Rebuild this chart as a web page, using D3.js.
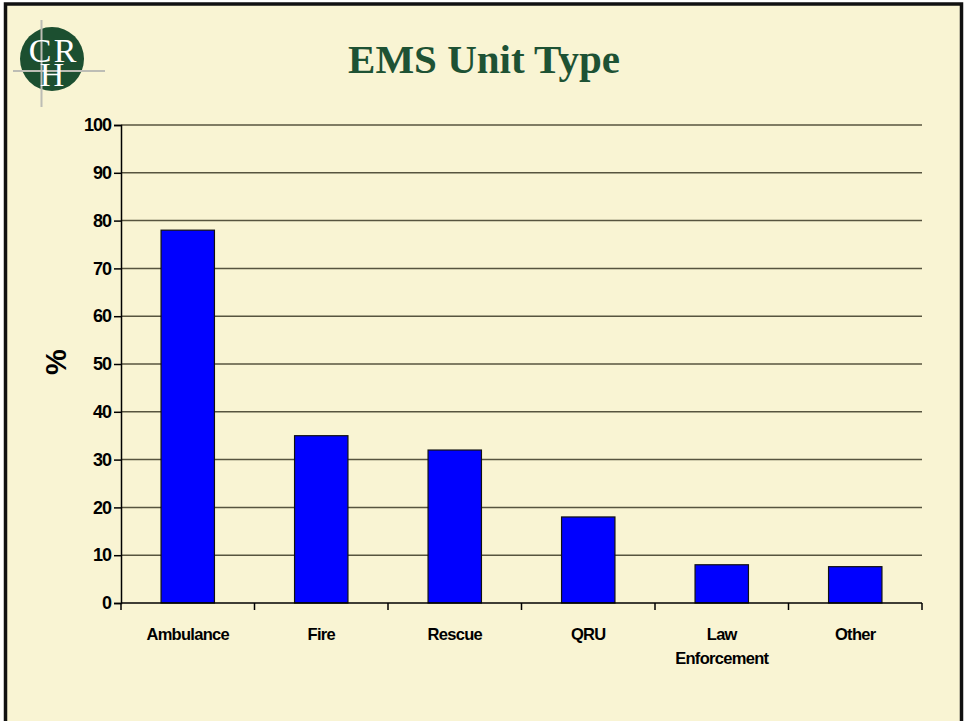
<!DOCTYPE html>
<html><head><meta charset="utf-8">
<script src="https://cdn.jsdelivr.net/npm/d3@7"></script>
<style>html,body{margin:0;padding:0;background:#fff;}svg{display:block;}</style>
</head><body>
<script>
const categories = ["Ambulance", "Fire", "Rescue", "QRU", "Law Enforcement", "Other"];
const values = [78, 35, 32, 18, 8, 7.6];
const yTicks = [0, 10, 20, 30, 40, 50, 60, 70, 80, 90, 100];
const titleText = "EMS Unit Type";
const yLabel = "%";

(function() {
const W = 964, H = 721;
const svg = d3.select("body").append("svg").attr("width", W).attr("height", H);

// frame
svg.append("rect").attr("x", 0).attr("y", 0).attr("width", W).attr("height", H).attr("fill", "#ffffff");
svg.append("rect").attr("x", 5.5).attr("y", 4).attr("width", 956).attr("height", 730)
  .attr("fill", "#F9F4D3").attr("stroke", "#111").attr("stroke-width", 3.5);

// logo
const logo = svg.append("g");
logo.append("circle").attr("cx", 52).attr("cy", 59).attr("r", 32).attr("fill", "#1C4F30");
logo.append("line").attr("x1", 41.5).attr("x2", 41.5).attr("y1", 20).attr("y2", 107).attr("stroke", "#BDBDB5").attr("stroke-width", 2);
logo.append("line").attr("x1", 13).attr("x2", 105).attr("y1", 71).attr("y2", 71).attr("stroke", "#BDBDB5").attr("stroke-width", 2);
const lf = "'Liberation Serif', 'DejaVu Serif', serif";
const lt = logo.append("text").attr("text-anchor", "middle").attr("font-family", lf).attr("font-size", 34).attr("fill", "#fff");
lt.append("tspan").attr("x", 40).attr("y", 62).text("C");
lt.append("tspan").attr("x", 65).attr("y", 62).text("R");
lt.append("tspan").attr("x", 52).attr("y", 86).text("H");

// title
svg.append("text").attr("x", 484).attr("y", 73).attr("text-anchor", "middle")
  .attr("font-family", lf).attr("font-weight", "bold").attr("font-size", 41)
  .attr("fill", "#1E5234").text(titleText);

const pLeft = 121, pRight = 922, pTop = 125, pBottom = 603;
const x = d3.scaleBand().domain(categories).range([pLeft, pRight]).paddingInner(0.6).paddingOuter(0.3);
const xb = d3.scaleBand().domain(categories).range([pLeft, pRight]);
const y = d3.scaleLinear().domain([0, 100]).range([pBottom, pTop]);

const sf = "'Liberation Sans', Arial, sans-serif";

// gridlines
svg.append("g").selectAll("line").data(yTicks.filter(d => d > 0)).join("line")
  .attr("x1", pLeft).attr("x2", pRight).attr("y1", d => y(d)).attr("y2", d => y(d))
  .attr("stroke", "#57543F").attr("stroke-width", 1.5);

// bars
svg.append("g").selectAll("rect").data(categories).join("rect")
  .attr("x", d => x(d)).attr("width", x.bandwidth())
  .attr("y", (d, i) => y(values[i])).attr("height", (d, i) => pBottom - y(values[i]))
  .attr("fill", "#0000FF").attr("stroke", "#111").attr("stroke-width", 1.2);

// y axis
const yAxis = svg.append("g").attr("transform", `translate(${pLeft},0)`)
  .call(d3.axisLeft(y).tickValues(yTicks).tickSize(7).tickPadding(3));
yAxis.select(".domain").attr("stroke", "#000").attr("stroke-width", 1.5);
yAxis.selectAll(".tick line").attr("stroke", "#000").attr("stroke-width", 1.5);
yAxis.selectAll(".tick text").attr("font-family", sf).attr("font-weight", "bold")
  .attr("font-size", 18).attr("letter-spacing", "-1px").attr("fill", "#000");

// x axis
const xAxis = svg.append("g").attr("transform", `translate(0,${pBottom})`);
xAxis.append("line").attr("x1", pLeft).attr("x2", pRight).attr("y1", 0).attr("y2", 0).attr("stroke", "#000").attr("stroke-width", 1.5);
const bounds = categories.map(c => xb(c)).concat([pRight]);
xAxis.selectAll("line.tk").data(bounds).join("line").attr("class", "tk")
  .attr("x1", d => d).attr("x2", d => d).attr("y1", 0).attr("y2", 7)
  .attr("stroke", "#000").attr("stroke-width", 1.5);
xAxis.selectAll("text").data(categories).join("text")
  .attr("x", d => xb(d) + xb.bandwidth() / 2).attr("y", 37)
  .attr("text-anchor", "middle").attr("font-family", sf).attr("font-weight", "bold")
  .attr("font-size", 16.5).attr("letter-spacing", "-0.7px").attr("fill", "#000")
  .each(function(d) {
    const words = d.split(" ");
    const t = d3.select(this);
    if (words.length > 1) {
      t.append("tspan").attr("x", xb(d) + xb.bandwidth() / 2).attr("dy", 0).text(words[0]);
      t.append("tspan").attr("x", xb(d) + xb.bandwidth() / 2).attr("dy", 24).text(words.slice(1).join(" "));
    } else t.text(d);
  });

// y label
svg.append("text").attr("transform", "translate(66,362) rotate(-90)")
  .attr("text-anchor", "middle").attr("font-family", sf).attr("font-weight", "bold")
  .attr("font-size", 29).attr("fill", "#000").text(yLabel);
})();
</script>
</body></html>
